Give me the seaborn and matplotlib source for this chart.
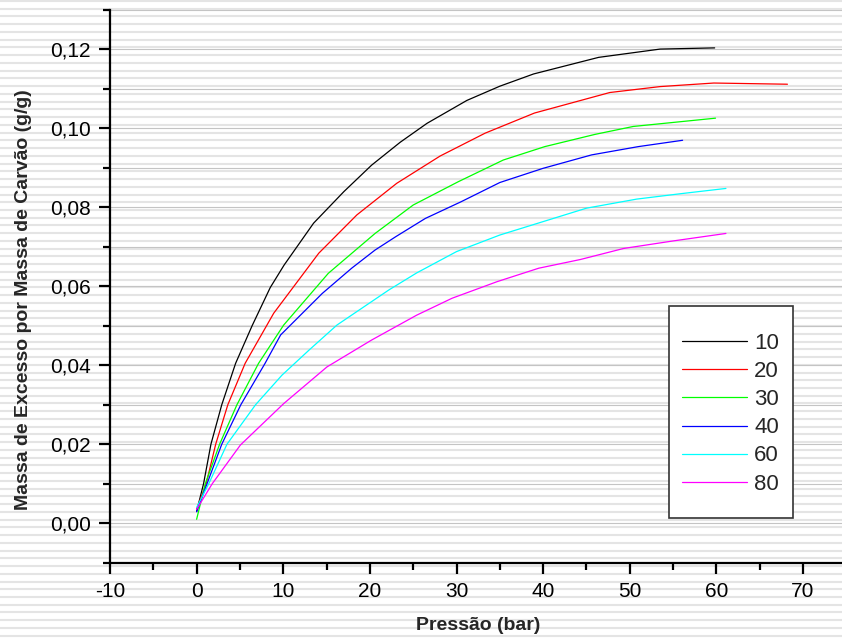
import numpy as np
import pandas as pd
import matplotlib
matplotlib.use("Agg")
import matplotlib.pyplot as plt
from matplotlib.ticker import MultipleLocator, FuncFormatter
from matplotlib.lines import Line2D
from matplotlib.patches import Rectangle
import seaborn as sns

# Excess adsorbed mass per coal mass vs pressure, one curve per temperature
p_10 = [0, 0.8, 1.65, 2.9, 4.5, 6.4, 8.5, 10.1, 13.5, 17.0, 20.2, 23.5, 26.6, 31.2, 35.0, 38.9, 46.4, 53.5, 59.8]
m_10 = [0.0030, 0.0100, 0.0200, 0.0300, 0.0405, 0.0500, 0.0597, 0.0654, 0.0760, 0.0840, 0.0907, 0.0965, 0.1013, 0.1071, 0.1107, 0.1138, 0.1180, 0.1201, 0.1204]

p_20 = [0, 1.1, 2.2, 3.6, 5.6, 8.9, 14.1, 18.5, 23.1, 28.1, 33.3, 39.0, 47.7, 53.5, 59.7, 68.2]
m_20 = [0.0035, 0.0100, 0.0200, 0.0300, 0.0405, 0.0532, 0.0684, 0.0781, 0.0861, 0.0930, 0.0988, 0.1039, 0.1091, 0.1106, 0.1115, 0.1112]

p_30 = [0, 1.0, 2.65, 4.65, 7.15, 10.05, 15.2, 20.6, 25.0, 30.2, 35.4, 40.2, 46.0, 50.4, 59.9]
m_30 = [0.0010, 0.0100, 0.0200, 0.0300, 0.0405, 0.0502, 0.0633, 0.0734, 0.0806, 0.0865, 0.0920, 0.0954, 0.0985, 0.1005, 0.1026]

p_40 = [0, 1.2, 2.9, 5.1, 7.9, 9.7, 14.5, 17.9, 20.6, 23.0, 26.4, 30.5, 35.0, 40.0, 45.6, 51.0, 56.1]
m_40 = [0.0029, 0.0100, 0.0200, 0.0300, 0.0405, 0.0477, 0.0582, 0.0646, 0.0692, 0.0726, 0.0772, 0.0814, 0.0863, 0.0899, 0.0933, 0.0954, 0.0970]

p_60 = [0, 1.4, 3.5, 6.8, 9.85, 13.0, 16.2, 22.2, 25.4, 30.0, 35.0, 40.0, 45.0, 50.8, 56.0, 61.1]
m_60 = [0.0040, 0.0100, 0.0200, 0.0300, 0.0375, 0.0439, 0.0502, 0.0591, 0.0634, 0.0688, 0.0730, 0.0764, 0.0798, 0.0821, 0.0835, 0.0848]

p_80 = [0, 1.8, 5.05, 10.05, 15.05, 20.2, 25.4, 29.5, 34.7, 39.5, 44.3, 49.3, 55.0, 61.1]
m_80 = [0.0035, 0.0100, 0.0198, 0.0303, 0.0396, 0.0464, 0.0527, 0.0570, 0.0612, 0.0646, 0.0668, 0.0696, 0.0715, 0.0734]

series_labels = ["10", "20", "30", "40", "60", "80"]
series_colors = ["#000000", "#ff0000", "#00ff00", "#0000ff", "#00ffff", "#ff00ff"]

x_ticks = [-10, 0, 10, 20, 30, 40, 50, 60, 70]
y_ticks = [0.00, 0.02, 0.04, 0.06, 0.08, 0.10, 0.12]

frames = []
for lab, p, m in zip(series_labels, [p_10, p_20, p_30, p_40, p_60, p_80],
                     [m_10, m_20, m_30, m_40, m_60, m_80]):
    frames.append(pd.DataFrame({"Pressão": p, "Massa": m, "T": lab}))
df = pd.concat(frames, ignore_index=True)

sns.set_style("white")
plt.rcParams["font.family"] = ["Liberation Sans", "DejaVu Sans"]

W, H = 842, 638
fig = plt.figure(figsize=(W / 100, H / 100), dpi=100)
fig.patch.set_facecolor("white")

# striped page background
bg = fig.add_axes([0, 0, 1, 1], zorder=0)
bg.set_xlim(0, W)
bg.set_ylim(H, 0)
bg.axis("off")
stripe_y = np.arange(1.0, H, 7.74)
bg.hlines(stripe_y, 0, W, colors="#e4e4e4", linewidth=1.5)

ax_l, ax_r, ax_b, ax_t = 110, 842, 562.7, 10
AW, AH = ax_r - ax_l, ax_b - ax_t
ax = fig.add_axes([ax_l / W, 1 - ax_b / H, AW / W, AH / H], zorder=1)
ax.set_facecolor("none")


def ax_xy(px, py):
    """pixel position on the page -> axes fraction"""
    return (px - ax_l) / AW, (ax_b - py) / AH


sns.lineplot(data=df, x="Pressão", y="Massa", hue="T", hue_order=series_labels,
             palette=series_colors, estimator=None, sort=False, linewidth=0.9,
             legend=False, ax=ax, zorder=3)

ax.set_xlim(-10, 74.5)
ax.set_ylim(-0.01, 0.13)
ax.set_xticks(x_ticks)
ax.set_yticks(y_ticks)
ax.xaxis.set_minor_locator(MultipleLocator(5))
ax.yaxis.set_minor_locator(MultipleLocator(0.01))
ax.yaxis.set_major_formatter(FuncFormatter(lambda v, _: f"{v:.2f}".replace(".", ",")))
ax.xaxis.set_major_formatter(FuncFormatter(lambda v, _: f"{v:g}"))

# light horizontal grid at every 0.01
for gy in np.arange(0.0, 0.1301, 0.01):
    ax.axhline(gy, color="#c4c4c4", linewidth=0.8, zorder=1)

for side in ["top", "right"]:
    ax.spines[side].set_visible(False)
for side in ["left", "bottom"]:
    ax.spines[side].set_linewidth(1.6)
    ax.spines[side].set_color("black")

ax.tick_params(axis="both", which="major", direction="out", length=8, width=1.6,
               labelsize=15, colors="black", pad=6)
ax.tick_params(axis="both", which="minor", direction="out", length=5, width=1.6, colors="black")
ax.tick_params(left=True, bottom=True, which="both")

ax.set_xlabel("Pressão (bar)", fontsize=14, fontweight="bold", va="top")
ax.set_ylabel("Massa de Excesso por Massa de Carvão (g/g)", fontsize=14, fontweight="bold")
ax.xaxis.set_label_coords(*ax_xy(478.5, 617))
ax.yaxis.set_label_coords(*ax_xy(32, 300))

# legend box
x0, y0 = ax_xy(669, 518)
x1, y1 = ax_xy(793, 306)
ax.add_patch(Rectangle((x0, y0), x1 - x0, y1 - y0, transform=ax.transAxes,
                       facecolor="white", edgecolor="#333333", linewidth=1.2,
                       zorder=4, clip_on=False))

handles = [Line2D([0], [0], color=c, linewidth=0.9) for c in series_colors]
leg = ax.legend(handles, series_labels, loc="upper left",
                bbox_to_anchor=ax_xy(682, 333),
                frameon=False, fontsize=16, handlelength=2.93,
                handletextpad=0.32, labelspacing=0.32, borderpad=0, borderaxespad=0)
leg.set_zorder(5)

fig.savefig("out.png", dpi=100, facecolor="white")
